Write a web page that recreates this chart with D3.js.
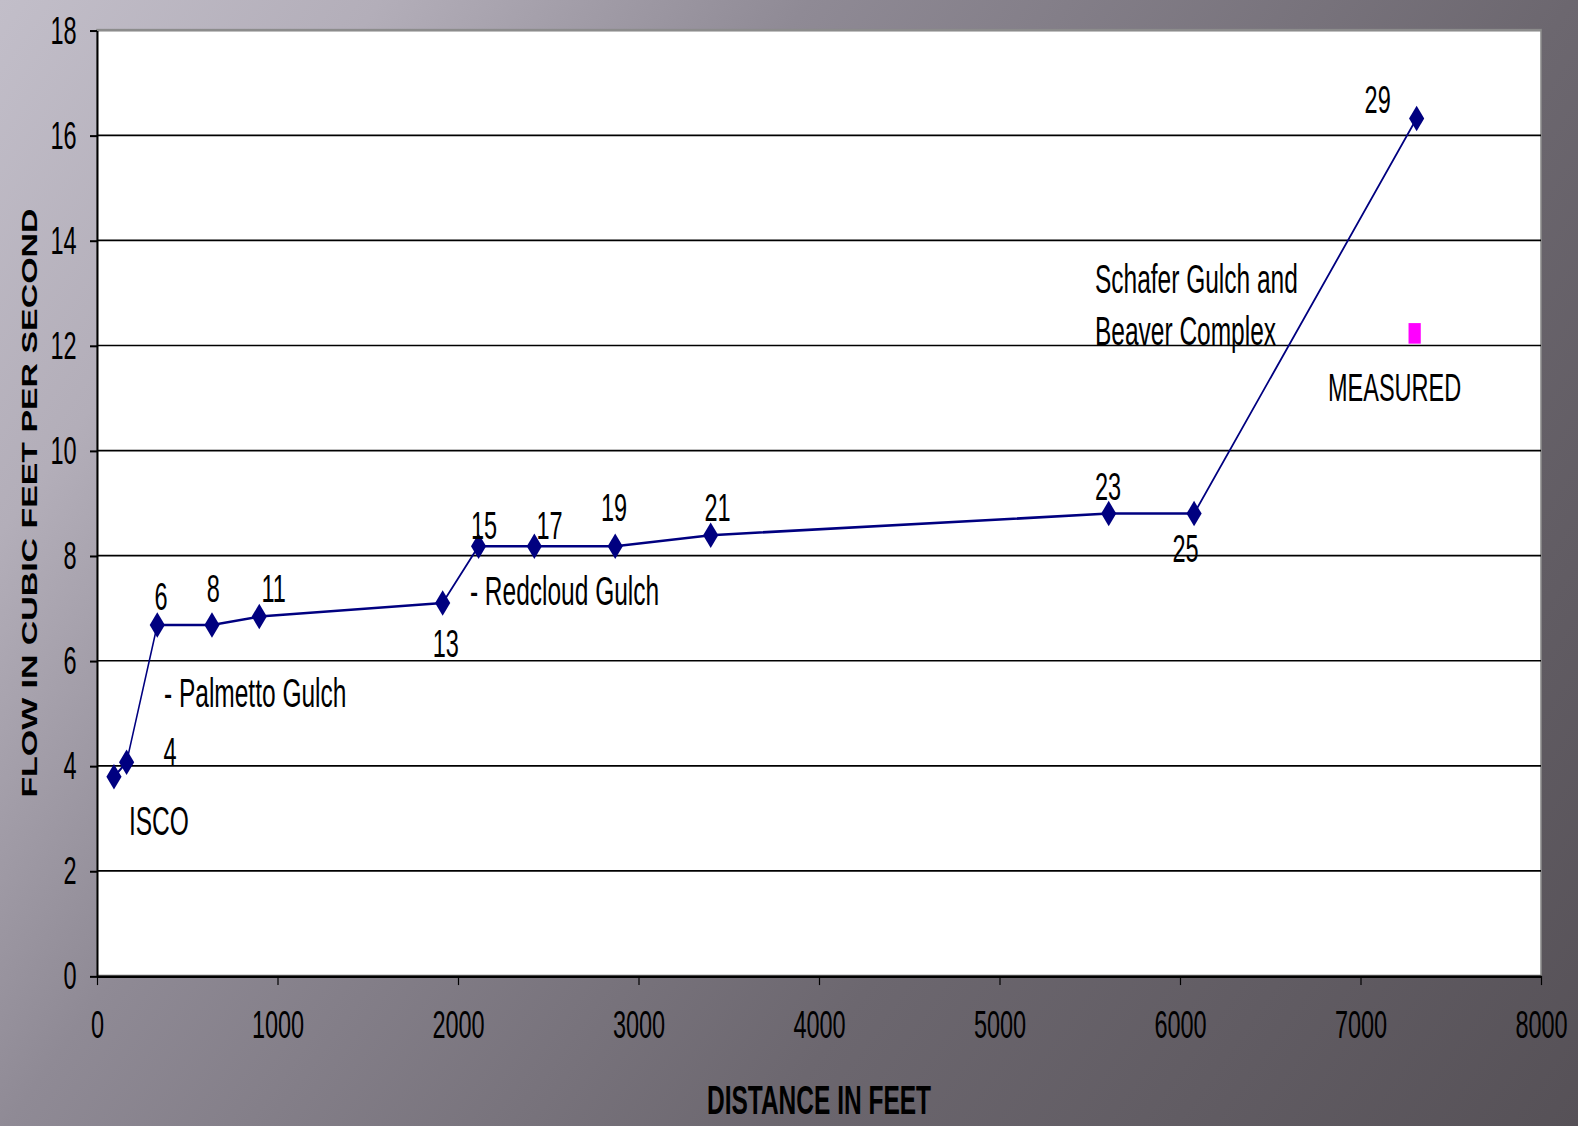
<!DOCTYPE html>
<html>
<head>
<meta charset="utf-8">
<script src="https://cdn.jsdelivr.net/npm/d3@7"></script>
<style>
  html, body { margin: 0; padding: 0; background: #8a8590; }
  svg { display: block; }
  text { font-family: "Liberation Sans", Arial, Helvetica, sans-serif; fill: #000; }
</style>
</head>
<body>
<svg id="chart" width="1578" height="1126"></svg>
<script>
// Stream flow along the gulch, measured downstream from the ISCO sampler
const distanceFt = [94, 164, 334, 637, 899, 1915, 2114, 2423, 2871, 3400, 5605, 6078, 7311];
const flowCfs    = [3.79, 4.07, 6.68, 6.68, 6.84, 7.10, 8.18, 8.18, 8.18, 8.39, 8.80, 8.80, 16.32];

// Field-measured flow at the downstream end
const measuredDistanceFt = [7300];
const measuredFlowCfs    = [12.23];

// Station numbers written beside the points (anchored in data units)
const stationText     = ["4", "6", "8", "11", "13", "15", "17", "19", "21", "23", "25", "29"];
const stationDistance = [404, 355, 644, 979, 1932, 2144, 2507, 2864, 3438, 5601, 6031, 7095];
const stationFlow     = [4.02, 6.96, 7.11, 7.11, 6.07, 8.31, 8.31, 8.65, 8.65, 9.05, 7.88, 16.43];

// Notes on inflows and the measurement
const noteText     = ["ISCO", "- Palmetto Gulch", "- Redcloud Gulch", "Schafer Gulch and", "Beaver Complex", "MEASURED"];
const noteDistance = [177, 371, 2066, 5529, 5529, 6820];
const noteFlow     = [2.68, 5.11, 7.06, 12.99, 12.0, 10.95];

const xTicks = [0, 1000, 2000, 3000, 4000, 5000, 6000, 7000, 8000];
const yTicks = [0, 2, 4, 6, 8, 10, 12, 14, 16, 18];

const xTitle = "DISTANCE IN FEET";
const yTitle = "FLOW IN CUBIC FEET PER SECOND";

// ---------------------------------------------------------------
const W = 1578, H = 1126;
const K = 1.68;                 // vertical stretch applied to the whole drawing
const plotLeft = 97, plotRight = 1541, plotTop = 30.2, plotBottom = 976;

const svg = d3.select("#chart");

// slide-style grey gradient backdrop
const defs = svg.append("defs");
const grad = defs.append("linearGradient")
  .attr("id", "bg").attr("gradientUnits", "userSpaceOnUse")
  .attr("x1", 0).attr("y1", 0).attr("x2", W).attr("y2", H);
[[0, "#c2bec9"], [0.16, "#b3aeb9"], [0.34, "#8f8a95"], [0.66, "#6c676f"], [1, "#565157"]]
  .forEach(([o, c]) => grad.append("stop").attr("offset", o).attr("stop-color", c));
svg.append("rect").attr("width", W).attr("height", H).attr("fill", "url(#bg)");

const g = svg.append("g").attr("transform", `scale(1,${K})`);

const x = d3.scaleLinear().domain([0, 8000]).range([plotLeft, plotRight]);
const y = d3.scaleLinear().domain([0, 18]).range([plotBottom / K, plotTop / K]);

// plot area
g.append("rect")
  .attr("x", x(0)).attr("y", y(18))
  .attr("width", x(8000) - x(0)).attr("height", y(0) - y(18))
  .attr("fill", "#fff").attr("stroke", "#8c8c8c").attr("stroke-width", 1.6);

// horizontal gridlines
g.append("g").selectAll("line")
  .data(yTicks.filter(v => v > 0 && v < 18))
  .join("line")
  .attr("x1", x(0)).attr("x2", x(8000))
  .attr("y1", d => y(d)).attr("y2", d => y(d))
  .attr("stroke", "#000").attr("stroke-width", 1);

// axes
const xAxis = g.append("g")
  .attr("transform", `translate(0,${y(0)})`)
  .call(d3.axisBottom(x).tickValues(xTicks).tickFormat(d3.format("d"))
    .tickSize(5.4).tickSizeOuter(0).tickPadding(14.8));
const yAxis = g.append("g")
  .attr("transform", `translate(${x(0)},0)`)
  .call(d3.axisLeft(y).tickValues(yTicks).tickFormat(d3.format("d"))
    .tickSize(7).tickSizeOuter(0).tickPadding(13.5));

[xAxis, yAxis].forEach(a => {
  a.attr("font-family", null).attr("font-size", null);
  a.select(".domain").attr("stroke", "#000").attr("stroke-width", 1.5);
  a.selectAll(".tick line").attr("stroke", "#000").attr("stroke-width", 1.2);
  a.selectAll(".tick text").attr("fill", "#000").style("font-size", "23.5px");
});
yAxis.select(".domain").attr("stroke-width", 2);

// flow line and diamond markers
const pts = distanceFt.map((d, i) => [d, flowCfs[i]]);
g.append("path")
  .datum(pts)
  .attr("fill", "none")
  .attr("stroke", "#000080")
  .attr("stroke-width", 1.5)
  .attr("stroke-linejoin", "round")
  .attr("d", d3.line().x(d => x(d[0])).y(d => y(d[1])));

const diamond = d3.symbol().type(d3.symbolSquare).size(115);
g.append("g").selectAll("path")
  .data(pts)
  .join("path")
  .attr("d", diamond)
  .attr("fill", "#000080")
  .attr("transform", d => `translate(${x(d[0])},${y(d[1])}) rotate(45)`);

// measured point
const square = d3.symbol().type(d3.symbolSquare).size(150);
g.append("g").selectAll("path")
  .data(measuredDistanceFt.map((d, i) => [d, measuredFlowCfs[i]]))
  .join("path")
  .attr("d", square)
  .attr("fill", "#ff00ff")
  .attr("transform", d => `translate(${x(d[0])},${y(d[1])})`);

// station numbers
g.append("g").selectAll("text")
  .data(stationText)
  .join("text")
  .attr("x", (d, i) => x(stationDistance[i]))
  .attr("y", (d, i) => y(stationFlow[i]))
  .attr("text-anchor", "middle")
  .style("font-size", "23.5px")
  .text(d => d);

// notes
g.append("g").selectAll("text")
  .data(noteText)
  .join("text")
  .attr("x", (d, i) => x(noteDistance[i]))
  .attr("y", (d, i) => y(noteFlow[i]))
  .attr("text-anchor", "start")
  .style("font-size", (d, i) => (i === noteText.length - 1 ? "23.5px" : "24.5px"))
  .text(d => d);

// axis titles
g.append("text")
  .attr("x", (plotLeft + plotRight) / 2)
  .attr("y", 1114 / K)
  .attr("text-anchor", "middle")
  .style("font-size", "24.5px")
  .style("font-weight", "bold")
  .text(xTitle);

g.append("text")
  .attr("transform", `translate(37,${(plotTop + plotBottom) / 2 / K}) rotate(-90)`)
  .attr("text-anchor", "middle")
  .attr("textLength", 589 / K)
  .attr("lengthAdjust", "spacingAndGlyphs")
  .style("font-size", "22px")
  .style("font-weight", "bold")
  .text(yTitle);
</script>
</body>
</html>
